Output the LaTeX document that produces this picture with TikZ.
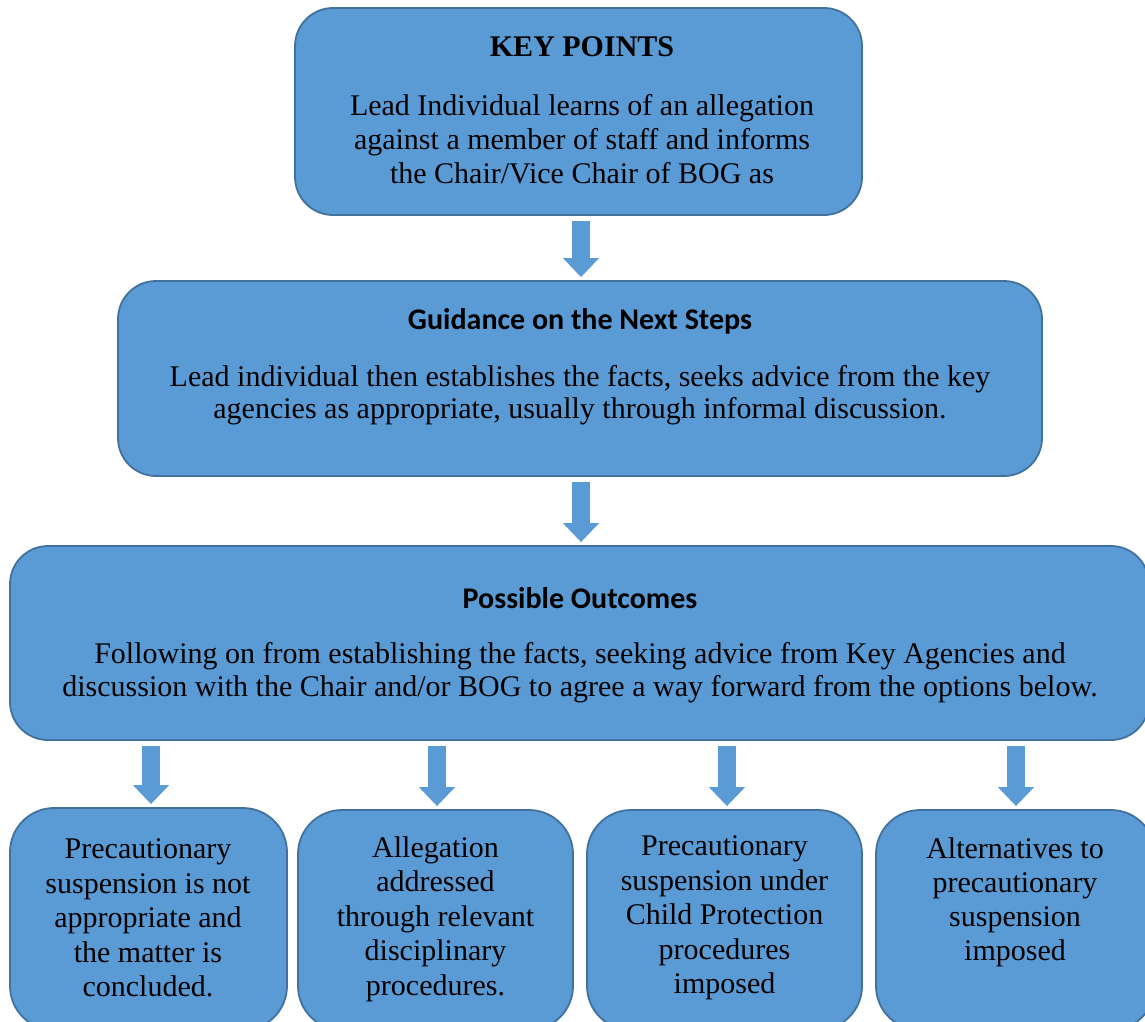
\documentclass[tikz,border=0pt]{standalone}
\usepackage{fontspec}
\setmainfont{Liberation Serif}
\newfontfamily\headfont{Carlito}
\usetikzlibrary{arrows.meta}
\definecolor{boxfill}{HTML}{5B9BD5}
\definecolor{boxline}{HTML}{41719C}
\begin{document}
\begin{tikzpicture}[x=1pt,y=-1pt,
  box/.style={draw=boxline, fill=boxfill, line width=1.8pt, rounded corners=38pt, inner sep=0pt},
  sbox/.style={box, rounded corners=44pt},
  txt/.style={align=center, inner sep=0pt, font=\fontsize{30}{34}\selectfont},
  headk/.style={inner sep=0pt, font=\fontsize{30}{34}\selectfont\bfseries},
  headc/.style={inner sep=0pt, font=\fontsize{30}{34}\selectfont\headfont\bfseries},
  barrow/.style={draw=boxfill, line width=18pt, -{Triangle[width=35pt,length=19pt]}, shorten <=5pt, shorten >=3pt}
]
\useasboundingbox (0,0) rectangle (1145,1021);
\node[box, minimum width=567pt, minimum height=207pt] (k1) at (578.5,111.5) {};
\node[box, minimum width=924pt, minimum height=195pt] (k2) at (580,378.5) {};
\node[box, minimum width=1139pt, minimum height=194pt] (k3) at (579.5,643) {};
\node[sbox, minimum width=277pt, minimum height=222pt] (ba) at (148.5,919) {};
\node[sbox, minimum width=275pt, minimum height=220pt] (bb) at (435.5,920) {};
\node[sbox, minimum width=275pt, minimum height=220pt] (bc) at (724.5,920) {};
\node[sbox, minimum width=279pt, minimum height=220pt] (bd) at (1015.5,920) {};

\node[headk] (k1h) at (582,47) {KEY POINTS};
\node[txt] (k1t) at (582,139) {Lead Individual learns of an allegation\\against a member of staff and informs\\the Chair/Vice Chair of BOG as};
\node[headc] (k2h) at (580,321) {Guidance on the Next Steps};
\node[txt, font=\fontsize{30}{32}\selectfont] (k2t) at (580,395) {Lead individual then establishes the facts, seeks advice from the key\\agencies as appropriate, usually through informal discussion.};
\node[headc] (k3h) at (580,598) {Possible Outcomes};
\node[txt, font=\fontsize{30}{33}\selectfont] (k3t) at (580,673) {Following on from establishing the facts, seeking advice from Key Agencies and\\discussion with the Chair and/or BOG to agree a way forward from the options below.};

\node[txt, font=\fontsize{30}{34.5}\selectfont] (bat) at (148,918) {Precautionary\\suspension is not\\appropriate and\\the matter is\\concluded.};
\node[txt, font=\fontsize{30}{34.5}\selectfont] (bbt) at (435.5,919) {Allegation\\addressed\\through relevant\\disciplinary\\procedures.};
\node[txt, font=\fontsize{30}{34.5}\selectfont] (bct) at (724.5,918) {Precautionary\\suspension under\\Child Protection\\procedures\\imposed};
\node[txt, font=\fontsize{30}{34}\selectfont] (bdt) at (1015,902) {Alternatives to\\precautionary\\suspension\\imposed};

\draw[barrow] (k1.south -| 581,0) -- (k2.north -| 581,0);
\draw[barrow] (k2.south -| 581,0) -- (k3.north -| 581,0);
\draw[barrow] (k3.south -| 151,0) -- (ba.north -| 151,0);
\draw[barrow] (k3.south -| 437,0) -- (bb.north -| 437,0);
\draw[barrow] (k3.south -| 727,0) -- (bc.north -| 727,0);
\draw[barrow] (k3.south -| 1016,0) -- (bd.north -| 1016,0);
\end{tikzpicture}
\end{document}
